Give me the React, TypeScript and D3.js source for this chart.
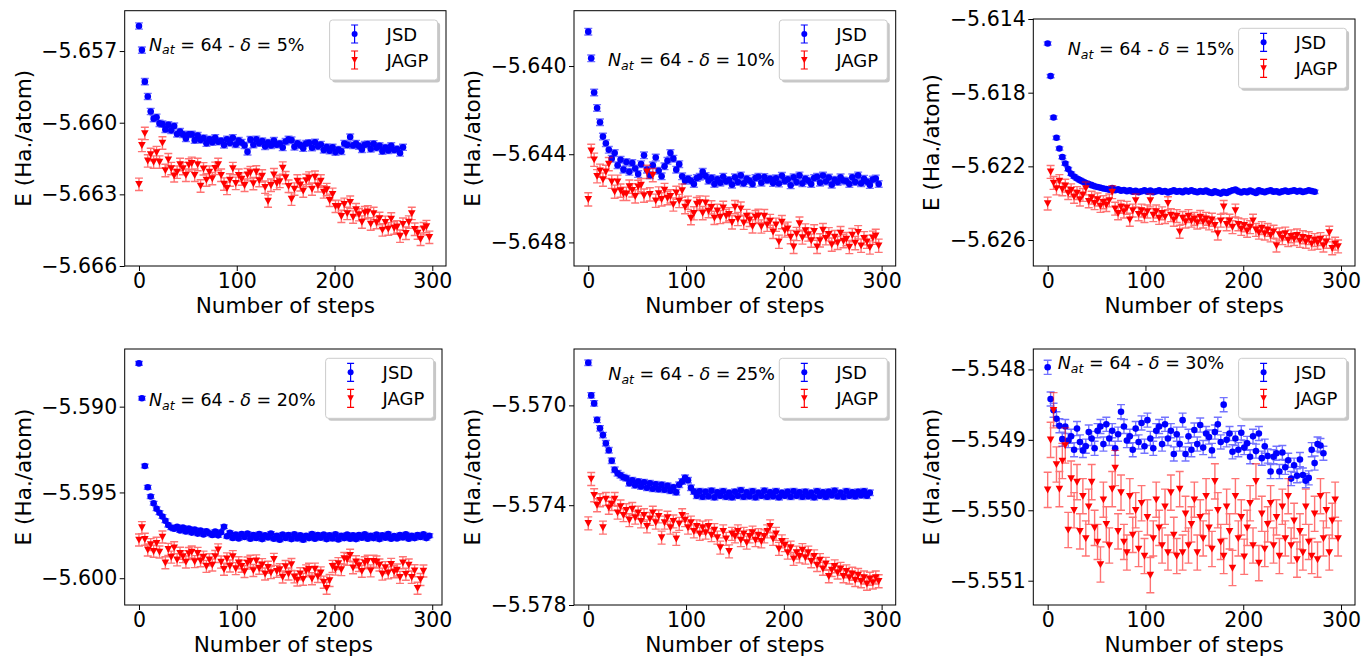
import React, { useEffect, useRef } from 'react';
import * as d3 from 'd3';

// every 3rd optimisation step
const stride = 3;

// energies are stored as offsets from the panel base, in units of 1e-5 Ha/atom
const deltas = ['5%', '10%', '15%', '20%', '25%', '30%'];
const bases = [-5.66, -5.64, -5.62, -5.59, -5.57, -5.549];
const jsdErr = [13, 15, 9, 11, 11, 10];
const jagpErr = [26, 30, 35, 35, 26, 25];

const p1Jsd = [405, 304, 172, 110, 47, 17, 23, -3, -6, -28,
  -9, -32, -14, -47, -37, -49, -66, -49, -49, -73,
  -54, -72, -64, -86, -70, -82, -63, -80, -76, -93,
  -69, -85, -63, -91, -75, -83, -95, -122, -71, -92,
  -69, -86, -77, -99, -83, -95, -75, -92, -87, -104,
  -79, -70, -73, -101, -86, -94, -107, -87, -84, -105,
  -82, -99, -91, -114, -102, -117, -103, -123, -112, -120,
  -87, -93, -60, -95, -87, -98, -112, -92, -89, -110,
  -88, -105, -97, -119, -104, -116, -97, -114, -110, -127,
  -103];
const p1Jagp = [-258, -95, -45, -160, -133, -165, -125, -165, -85, -200,
  -155, -192, -222, -207, -175, -192, -220, -177, -170, -220,
  -175, -265, -193, -240, -207, -234, -191, -175, -220, -257,
  -275, -240, -192, -254, -220, -236, -262, -218, -209, -255,
  -206, -242, -223, -270, -328, -262, -218, -254, -246, -190,
  -230, -266, -320, -278, -244, -260, -286, -242, -232, -278,
  -228, -264, -244, -290, -280, -325, -300, -350, -350, -392,
  -342, -380, -333, -395, -364, -385, -416, -377, -373, -424,
  -380, -418, -401, -449, -417, -445, -403, -441, -436, -475,
  -425, -463, -416, -380, -446, -462, -488, -444, -435, -480];

const p2Jsd = [156, 35, -120, -190, -255, -320, -350, -380, -420, -395,
  -450, -425, -470, -435, -480, -440, -465, -490, -445, -405,
  -470, -495, -450, -415, -475, -500, -455, -430, -395, -420,
  -470, -445, -500, -520, -511, -520, -535, -508, -502, -480,
  -499, -520, -508, -535, -514, -529, -502, -523, -517, -538,
  -505, -526, -496, -532, -511, -520, -535, -508, -502, -529,
  -503, -518, -511, -531, -509, -533, -498, -521, -514, -541,
  -505, -526, -496, -532, -511, -520, -535, -508, -502, -529,
  -497, -524, -506, -538, -516, -526, -505, -519, -522, -535,
  -505, -526, -496, -532, -511, -525, -540, -515, -510, -535];
const p2Jagp = [-605, -385, -425, -500, -475, -515, -480, -445, -525, -570,
  -525, -565, -580, -580, -547, -564, -591, -548, -540, -588,
  -480, -582, -495, -611, -578, -605, -562, -599, -591, -628,
  -575, -612, -565, -640, -620, -690, -668, -626, -619, -667,
  -620, -658, -641, -689, -657, -685, -643, -680, -672, -709,
  -640, -694, -647, -711, -680, -698, -727, -685, -679, -728,
  -681, -720, -703, -752, -720, -797, -708, -746, -738, -776,
  -820, -762, -715, -778, -746, -764, -792, -750, -820, -791,
  -744, -781, -763, -810, -776, -802, -758, -794, -785, -821,
  -767, -803, -754, -815, -781, -797, -823, -779, -770, -815];

const p3Jsd = [467, 290, 65, -45, -103, -150, -185, -215, -240, -255,
  -266, -275, -283, -290, -296, -302, -308, -312, -316, -320,
  -323, -327, -318, -330, -325, -332, -328, -335, -330, -338,
  -333, -340, -335, -330, -338, -332, -340, -335, -330, -338,
  -334, -342, -336, -330, -338, -334, -340, -332, -337, -330,
  -336, -341, -334, -338, -332, -340, -345, -336, -342, -348,
  -338, -344, -336, -330, -326, -336, -342, -335, -340, -332,
  -338, -344, -330, -336, -340, -334, -330, -338, -335, -342,
  -336, -332, -338, -334, -330, -337, -333, -339, -335, -330,
  -334, -338];
const p3Jagp = [-402, -230, -290, -320, -280, -325, -305, -345, -330, -365,
  -345, -380, -355, -320, -390, -370, -400, -380, -415, -395,
  -410, -385, -340, -430, -455, -420, -445, -425, -490, -440,
  -385, -460, -440, -470, -445, -385, -465, -445, -480, -455,
  -475, -400, -465, -490, -470, -555, -480, -500, -470, -495,
  -485, -505, -475, -500, -485, -510, -490, -520, -565, -495,
  -420, -515, -495, -530, -440, -515, -540, -520, -550, -530,
  -495, -545, -560, -535, -565, -545, -575, -555, -630, -570,
  -590, -565, -600, -580, -595, -575, -605, -585, -610, -590,
  -620, -600, -615, -595, -630, -610, -560, -645, -620, -635];

const p4Jsd = [252, 49, -346, -470, -524, -563, -595, -618, -640, -665,
  -690, -705, -712, -700, -722, -705, -728, -710, -734, -716,
  -740, -722, -745, -726, -738, -748, -728, -750, -732, -700,
  -755, -735, -765, -745, -768, -742, -760, -740, -770, -748,
  -765, -742, -772, -750, -762, -740, -770, -752, -775, -745,
  -765, -748, -772, -744, -768, -750, -776, -752, -766, -742,
  -770, -748, -764, -745, -772, -750, -768, -744, -774, -752,
  -766, -746, -770, -750, -772, -748, -764, -744, -770, -752,
  -766, -746, -772, -750, -764, -742, -770, -754, -768, -748,
  -762, -744, -770, -752, -766, -748, -760, -744, -766, -752];
const p4Jagp = [-777, -705, -773, -835, -804, -843, -796, -847, -760, -910,
  -832, -877, -822, -893, -854, -874, -905, -856, -847, -903,
  -855, -898, -877, -931, -892, -923, -873, -835, -906, -948,
  -887, -929, -874, -944, -910, -930, -961, -911, -901, -955,
  -899, -942, -921, -975, -936, -967, -890, -960, -950, -993,
  -932, -975, -920, -992, -1010, -974, -1006, -957, -948, -1003,
  -947, -990, -969, -1023, -1058, -1013, -931, -947, -915, -950,
  -885, -890, -866, -939, -904, -926, -959, -910, -901, -957,
  -901, -905, -923, -976, -938, -969, -919, -962, -952, -995,
  -910, -977, -923, -995, -956, -1058, -1007, -958];

const p5Jsd = [171, 40, 8, -58, -92, -119, -152, -180, -222, -258,
  -272, -280, -288, -292, -312, -300, -320, -305, -325, -308,
  -330, -312, -334, -316, -336, -318, -338, -322, -342, -328,
  -348, -318, -305, -290, -300, -330, -345, -362, -344, -366,
  -346, -364, -342, -368, -348, -362, -344, -366, -350, -368,
  -346, -362, -340, -366, -348, -364, -344, -368, -350, -362,
  -342, -366, -348, -364, -344, -368, -350, -362, -346, -366,
  -344, -362, -348, -366, -346, -364, -350, -368, -344, -362,
  -348, -366, -346, -360, -342, -364, -350, -366, -344, -362,
  -348, -364, -346, -360, -344, -362, -350];
const p5Jagp = [-473, -295, -360, -400, -380, -490, -375, -410, -395, -375,
  -430, -405, -440, -420, -460, -415, -450, -430, -465, -440,
  -485, -455, -430, -470, -445, -530, -470, -450, -490, -465,
  -535, -475, -440, -460, -490, -470, -505, -485, -515, -490,
  -510, -485, -520, -500, -530, -570, -505, -535, -585, -515,
  -525, -505, -540, -515, -550, -525, -510, -540, -520, -545,
  -525, -505, -485, -535, -515, -575, -545, -560, -590, -570,
  -615, -590, -605, -580, -610, -590, -625, -605, -640, -620,
  -655, -635, -685, -660, -645, -670, -655, -685, -665, -690,
  -675, -700, -680, -705, -690, -715, -695, -710, -690, -705];

const p6Jsd = [103, 58, 42, 30, 20, 1, 19, -1, 5, -14,
  16, -3, -15, -9, 11, 2, -12, 13, 19, -6,
  22, 2, 13, -12, 8, 40, 19, -1, 5, -14,
  16, -3, 24, -9, 28, 2, -12, 13, 19, -6,
  22, 2, 13, -20, 8, -6, 28, -20, 5, -14,
  14, -6, 21, -11, 9, 4, -15, 11, 22, -3,
  50, 0, 9, -17, 2, -14, 10, -11, -5, -24,
  5, -16, 9, -26, -9, -23, -45, -24, -19, -45,
  -18, -39, -29, -55, -36, -51, -28, -50, -58, -54,
  -14, -33, -6, -8, -19];
const p6Jagp = [-71, 0, 42, -35, -70, -30, -8, -128, -55, -100,
  -60, -130, -80, -140, -95, -60, -125, -145, -177, -85,
  -120, -150, -70, -40, -130, -75, -145, -160, -80, -135,
  -100, -155, -90, -165, -110, -192, -140, -85, -125, -150,
  -95, -160, -75, -135, -165, -70, -160, -105, -150, -120,
  -85, -160, -110, -140, -80, -125, -155, -59, -100, -145,
  -165, -95, -130, -182, -80, -140, -110, -166, -125, -90,
  -150, -59, -175, -105, -155, -120, -90, -150, -110, -165,
  -95, -140, -80, -150, -115, -170, -130, -160, -95, -145,
  -165, -105, -170, -80, -140, -100, -160, -115, -85, -140];

const xTicks = [0, 100, 200, 300];
const yTicks = [
  [-5.657, -5.66, -5.663, -5.666],
  [-5.64, -5.644, -5.648],
  [-5.614, -5.618, -5.622, -5.626],
  [-5.59, -5.595, -5.6],
  [-5.57, -5.574, -5.578],
  [-5.548, -5.549, -5.55, -5.551],
];
const jsdSeries = [p1Jsd, p2Jsd, p3Jsd, p4Jsd, p5Jsd, p6Jsd];
const jagpSeries = [p1Jagp, p2Jagp, p3Jagp, p4Jagp, p5Jagp, p6Jagp];

// axes boxes in page pixels (matplotlib tight layout)
const frames = [
  { left: 124.7, top: 10.7, right: 446, bottom: 266, xDom: [-14.6, 314], yDom: [-5.666, -5.65531], note: [24.3, 40] },
  { left: 574, top: 10.7, right: 895.7, bottom: 266, xDom: [-14.6, 314.4], yDom: [-5.64907, -5.63749], note: [34, 55.3] },
  { left: 1033.3, top: 19, right: 1355, bottom: 266, xDom: [-14.7, 314.3], yDom: [-5.62741, -5.614], note: [34.4, 36] },
  { left: 124.7, top: 349, right: 442, bottom: 605, xDom: [-14.6, 310], yDom: [-5.60156, -5.58664], note: [24.3, 57] },
  { left: 574, top: 349, right: 895.7, bottom: 605, xDom: [-14.6, 314.4], yDom: [-5.578, -5.56774], note: [34.3, 31] },
  { left: 1033.3, top: 349, right: 1355, bottom: 605, xDom: [-14.7, 314.3], yDom: [-5.551345, -5.54771], note: [24.4, 20.3] },
];

const BLUE = '#0000ff';
const RED = '#ff0000';
const FONT = 'DejaVu Sans, sans-serif';
const tri = 'M-3.8,-3.3L3.8,-3.3L0,3.6Z';
const triSmall = 'M-3.3,-3L3.3,-3L0,3.3Z';

const App = () => {
  const ref = useRef<SVGSVGElement | null>(null);

  useEffect(() => {
    const svg = d3.select(ref.current);
    svg.selectAll('*').remove();

    frames.forEach((f, k) => {
      const g = svg.append('g');
      const x = d3.scaleLinear().domain(f.xDom).range([f.left, f.right]);
      const y = d3.scaleLinear().domain(f.yDom).range([f.bottom, f.top]);
      const base = bases[k];

      const drawSeries = (vals: number[], err: number, color: string, marker: 'o' | 'v') => {
        let bars = '';
        vals.forEach((d, i) => {
          const px = x(i * stride);
          const v = base + d * 1e-5;
          const y1 = y(v - err * 1e-5);
          const y2 = y(v + err * 1e-5);
          bars += `M${px},${y1}V${y2}M${px - 4},${y1}h8M${px - 4},${y2}h8`;
        });
        g.append('path').attr('d', bars).attr('stroke', color).attr('stroke-width', 1.4)
          .attr('stroke-opacity', 0.55).attr('fill', 'none');
        const pts = g.append('g').selectAll('.m').data(vals).enter();
        if (marker === 'o') {
          pts.append('circle')
            .attr('cx', (d, i) => x(i * stride))
            .attr('cy', d => y(base + d * 1e-5))
            .attr('r', 3.3).attr('fill', color);
        } else {
          pts.append('path').attr('d', tri)
            .attr('transform', (d, i) => `translate(${x(i * stride)},${y(base + d * 1e-5)})`)
            .attr('fill', color);
        }
      };

      drawSeries(jsdSeries[k], jsdErr[k], BLUE, 'o');
      drawSeries(jagpSeries[k], jagpErr[k], RED, 'v');

      // frame
      g.append('rect').attr('x', f.left).attr('y', f.top)
        .attr('width', f.right - f.left).attr('height', f.bottom - f.top)
        .attr('fill', 'none').attr('stroke', '#000').attr('stroke-width', 1);

      const ax = g.append('g').attr('transform', `translate(0,${f.bottom})`)
        .call(d3.axisBottom(x).tickValues(xTicks).tickSize(5).tickPadding(2.8).tickFormat(d3.format('d')));
      const ay = g.append('g').attr('transform', `translate(${f.left},0)`)
        .call(d3.axisLeft(y).tickValues(yTicks[k]).tickSize(5).tickPadding(2.5).tickFormat(d3.format('.3f')));
      [ax, ay].forEach(a => {
        a.select('.domain').remove();
        a.selectAll('text').attr('font-size', 20.5).attr('font-family', FONT).attr('fill', '#000');
        a.selectAll('line').attr('stroke', '#000');
      });

      g.append('text').attr('x', (f.left + f.right) / 2).attr('y', f.bottom + 47)
        .attr('text-anchor', 'middle').attr('font-size', 21.6).attr('font-family', FONT)
        .text('Number of steps');
      g.append('text')
        .attr('transform', `translate(${f.left - 94},${(f.top + f.bottom) / 2}) rotate(-90)`)
        .attr('text-anchor', 'middle').attr('font-size', 21.6).attr('font-family', FONT)
        .text('E (Ha./atom)');

      // annotation
      const t = g.append('text').attr('x', f.left + f.note[0]).attr('y', f.top + f.note[1])
        .attr('font-size', 17.5).attr('font-family', FONT);
      t.append('tspan').attr('font-style', 'italic').text('N');
      t.append('tspan').attr('font-style', 'italic').attr('font-size', 12.5).attr('dy', 3.5).text('at');
      t.append('tspan').attr('dy', -3.5).text(' = 64 - ');
      t.append('tspan').attr('font-style', 'italic').text('δ');
      t.append('tspan').text(` = ${deltas[k]}`);

      // legend
      const lw = 108, lh = 60;
      const lg = g.append('g').attr('transform', `translate(${f.right - 8.4 - lw},${f.top + 9.3})`);
      lg.append('rect').attr('x', 2.5).attr('y', 2.5).attr('width', lw).attr('height', lh).attr('rx', 3)
        .attr('fill', '#000').attr('fill-opacity', 0.22);
      lg.append('rect').attr('width', lw).attr('height', lh).attr('rx', 3)
        .attr('fill', '#fff').attr('stroke', '#cccccc').attr('stroke-width', 1);
      const entries = [
        { label: 'JSD', color: BLUE, marker: 'o', cy: 14 },
        { label: 'JAGP', color: RED, marker: 'v', cy: 40 },
      ];
      entries.forEach(e => {
        lg.append('path')
          .attr('d', `M25,${e.cy - 9}V${e.cy + 9}M21.5,${e.cy - 9}h7M21.5,${e.cy + 9}h7`)
          .attr('stroke', e.color).attr('stroke-width', 1.2).attr('fill', 'none');
        if (e.marker === 'o') {
          lg.append('circle').attr('cx', 25).attr('cy', e.cy).attr('r', 3).attr('fill', e.color);
        } else {
          lg.append('path').attr('d', triSmall).attr('transform', `translate(25,${e.cy})`).attr('fill', e.color);
        }
        lg.append('text').attr('x', 57).attr('y', e.cy + 7.2).attr('font-size', 18)
          .attr('font-family', FONT).text(e.label);
      });
    });
  }, []);

  return (
    <svg ref={ref} width={1364} height={659}
      style={{ position: 'absolute', left: 0, top: 0, background: '#fff' }} />
  );
};

export default App;
